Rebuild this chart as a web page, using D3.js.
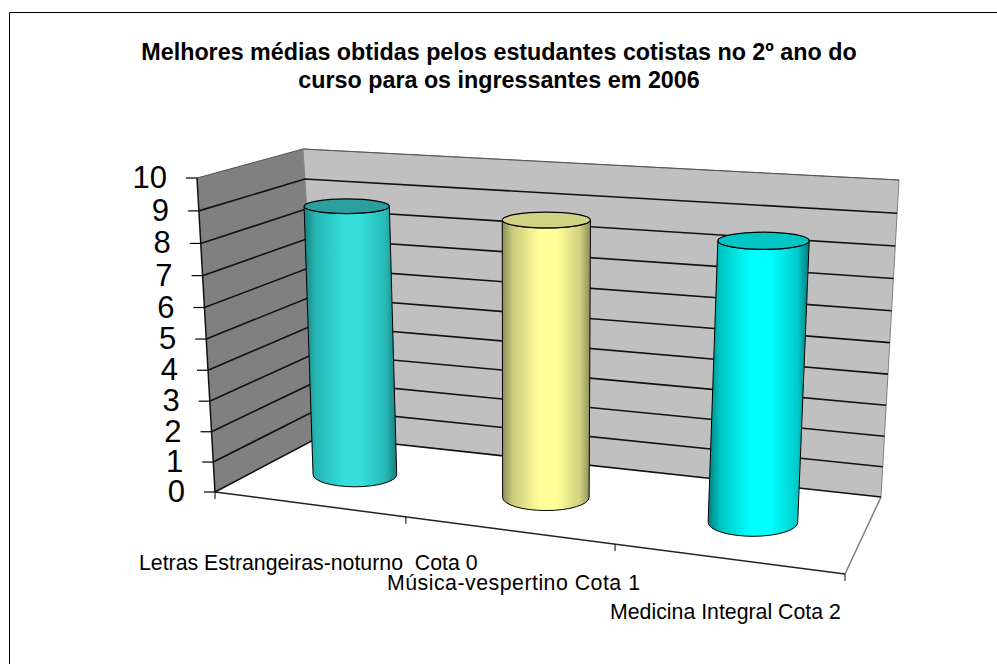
<!DOCTYPE html>
<html><head><meta charset="utf-8">
<script src="https://cdn.jsdelivr.net/npm/d3@7/dist/d3.min.js"></script>
<style>html,body{margin:0;padding:0;background:#fff}svg{display:block}text{font-family:"Liberation Sans",Arial,sans-serif;fill:#000;white-space:pre}</style>
</head><body><script>
const titleLines = ["Melhores médias obtidas pelos estudantes cotistas no 2º ano do","curso para os ingressantes em 2006"];
const categories = ["Letras Estrangeiras-noturno  Cota 0","Música-vespertino Cota 1","Medicina Integral Cota 2"];
const values = [8.84, 8.84, 8.67];
const yTicks = [0,1,2,3,4,5,6,7,8,9,10];

const W=997,H=664;
const svg=d3.select("body").append("svg").attr("width",W).attr("height",H);
// 3D box corners [bottom, top] as seen in the picture
const FL=[[215,492],[197,178]], FR=[[845,574],[865,225]], BL=[[321,436],[303,149]], BR=[[881,497],[899,180]];
const warp=t=>t/(t+(1-t)*1.053);
const vScale=d3.scaleLinear().domain([0,10]).range([0,1]);
const uScale=d3.scaleOrdinal().domain(categories).range([.146,.467,.815]);
const mix=(a,b,t)=>[a[0]+(b[0]-a[0])*t,a[1]+(b[1]-a[1])*t];
const edge=(c,v)=>mix(c[0],c[1],warp(vScale(v)));
const P=(u,d,v)=>mix(mix(edge(FL,v),edge(FR,v),u),mix(edge(BL,v),edge(BR,v),u),d);
const line=d3.line();

// frame
svg.append("path").attr("d","M9.5,664V12.5H997").attr("fill","none").attr("stroke","#000").attr("stroke-width",1);

// title
svg.selectAll("text.t").data(titleLines).join("text").attr("class","t")
  .attr("x",499).attr("y",(d,i)=>60+i*28).attr("text-anchor","middle")
  .attr("font-size",23.3).attr("font-weight","bold").text(d=>d);

// walls and floor
svg.append("path").attr("d",line([edge(FL,0),edge(BL,0),edge(BL,10),edge(FL,10)])+"Z").attr("fill","#808080");
svg.append("path").attr("d",line([edge(BL,0),edge(BR,0),edge(BR,10),edge(BL,10)])+"Z").attr("fill","#c0c0c0").attr("stroke","#808080").attr("stroke-width",1);
svg.append("path").attr("d",line([edge(FL,0),edge(FR,0),edge(BR,0),edge(BL,0)])+"Z").attr("fill","#fff");
svg.append("path").attr("d",line([edge(BL,0),edge(FL,0)])).attr("stroke","#999").attr("fill","none");
svg.append("path").attr("d",line([edge(BR,0),edge(FR,0)])).attr("stroke","#808080").attr("stroke-width",1.5).attr("fill","none");
svg.append("path").attr("d",line([edge(FL,0),edge(FR,0)])).attr("stroke","#222").attr("stroke-width",1.5).attr("fill","none");

// gridlines
yTicks.forEach(v=>{
  const top=v===10;
  svg.append("path").attr("d",line([edge(FL,v),edge(BL,v),edge(BR,v)])).attr("fill","none")
    .attr("stroke",top?"#555":"#111").attr("stroke-width",top?1:1.6);
});
// value axis
svg.append("path").attr("d",line([edge(FL,0),edge(FL,10)])).attr("stroke","#111").attr("stroke-width",1.5).attr("fill","none");
yTicks.forEach(v=>{
  const p=edge(FL,v);
  svg.append("path").attr("d",line([[p[0]-11,p[1]],p])).attr("stroke","#000").attr("stroke-width",1.2);
  svg.append("text").attr("x",p[0]-30).attr("y",p[1]+10).attr("text-anchor","end").attr("font-size",31).text(v);
});
// category ticks
[0,1,2,3].forEach(i=>{
  const p=mix(edge(FL,0),edge(FR,0),[0,.303,.635,1][i]);
  svg.append("path").attr("d",line([p,[p[0],p[1]+7]])).attr("stroke","#000").attr("stroke-width",1);
});
// category labels
const labelPos=[[139,570],[387,590],[610,619]];
const labelSpacing=[0,.5,0];
categories.forEach((c,i)=>svg.append("text").attr("x",labelPos[i][0]).attr("y",labelPos[i][1]).attr("font-size",21.3).attr("letter-spacing",labelSpacing[i]).text(c));

// cylinders
const defs=svg.append("defs");
const pal=[{e:"#17807e",m:"#33dedb",top:"#2a9f9d"},{e:"#8c8c5a",m:"#ffff99",top:"#d2d284"},{e:"#007e7e",m:"#00ffff",top:"#00c6c6"}];
pal.forEach((p,i)=>{
  const g=defs.append("linearGradient").attr("id","g"+i);
  [[0,p.e],[.12,d3.interpolateRgb(p.e,p.m)(.55)],[.42,p.m],[.62,p.m],[.88,d3.interpolateRgb(p.e,p.m)(.6)],[1,p.e]]
    .forEach(s=>g.append("stop").attr("offset",s[0]).attr("stop-color",s[1]));
});
categories.forEach((c,i)=>{
  const u=uScale(c), v=values[i];
  const b=P(u,.5,0), t=P(u,.5,v);
  t[0]+=4*(1-u)*(1-u);
  const unit=(b[1]-P(u,.5,10)[1])/10;
  const rb=1.37*unit, rt=rb*1.02, ryb=12+2.5*u, ryt=7+2*u;
  svg.append("path").attr("d",`M${t[0]-rt},${t[1]}L${b[0]-rb},${b[1]}A${rb},${ryb} 0 0 0 ${b[0]+rb},${b[1]}L${t[0]+rt},${t[1]}A${rt},${ryt} 0 0 1 ${t[0]-rt},${t[1]}Z`)
    .attr("fill",`url(#g${i})`).attr("stroke","#000").attr("stroke-width",1);
  svg.append("ellipse").attr("cx",t[0]).attr("cy",t[1]).attr("rx",rt).attr("ry",ryt)
    .attr("fill",pal[i].top).attr("stroke","#000").attr("stroke-width",1.2);
});
</script></body></html>
